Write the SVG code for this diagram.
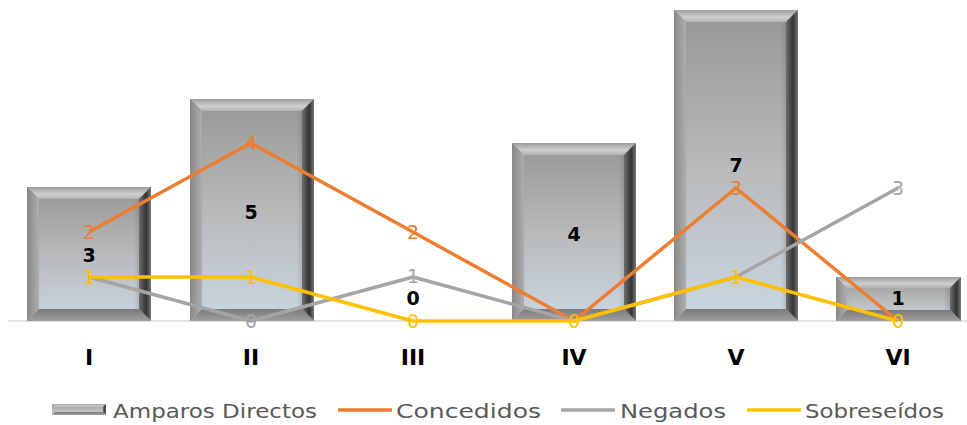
<svg xmlns="http://www.w3.org/2000/svg" width="967" height="425" viewBox="0 0 967 425">
<defs>
<linearGradient id="face" x1="0" y1="0" x2="0" y2="1">
<stop offset="0" stop-color="#979797"/>
<stop offset="0.5" stop-color="#b8b9ba"/>
<stop offset="1" stop-color="#cad7e2"/>
</linearGradient>
<linearGradient id="side" x1="0" y1="0" x2="1" y2="0">
<stop offset="0" stop-color="#000" stop-opacity="0.1"/>
<stop offset="0.12" stop-color="#000" stop-opacity="0"/>
<stop offset="0.86" stop-color="#000" stop-opacity="0"/>
<stop offset="0.92" stop-color="#000" stop-opacity="0.15"/>
<stop offset="1" stop-color="#000" stop-opacity="0.05"/>
</linearGradient>
<linearGradient id="topb" x1="0" y1="0" x2="0" y2="1">
<stop offset="0" stop-color="#9c9c9c"/>
<stop offset="0.6" stop-color="#cfcfcf"/>
<stop offset="1" stop-color="#b2b2b2"/>
</linearGradient>
<linearGradient id="leftb" x1="0" y1="0" x2="1" y2="0">
<stop offset="0" stop-color="#888"/>
<stop offset="1" stop-color="#aeaeae"/>
</linearGradient>
<linearGradient id="rightb" x1="0" y1="0" x2="1" y2="0">
<stop offset="0" stop-color="#6e6e6e"/>
<stop offset="0.6" stop-color="#333"/>
<stop offset="1" stop-color="#777"/>
</linearGradient>
<linearGradient id="botb" x1="0" y1="0" x2="0" y2="1">
<stop offset="0" stop-color="#7a7a7a"/>
<stop offset="1" stop-color="#9e9e9e"/>
</linearGradient>
<style>
.face{fill:url(#face)}
.side{fill:url(#side)}
.tb{fill:url(#topb)}
.lb{fill:url(#leftb)}
.rb{fill:url(#rightb)}
.bb{fill:url(#botb)}
.ln{fill:none;stroke-width:3.5;stroke-linejoin:round}
.or{stroke:#ED7D31}
.gr{stroke:#A5A5A5}
.ye{stroke:#FFC000}
.bl{font-family:"DejaVu Sans","Liberation Sans",sans-serif;font-weight:bold;font-size:19px;fill:#000;text-anchor:middle}
.dl{font-family:"DejaVu Sans","Liberation Sans",sans-serif;font-size:19px;text-anchor:middle;dominant-baseline:central}
.cat{font-family:"DejaVu Sans","Liberation Sans",sans-serif;font-weight:bold;font-size:22px;fill:#000;text-anchor:middle}
.lg{font-family:"DejaVu Sans","Liberation Sans",sans-serif;font-size:20px;fill:#595959}
</style>
</defs>
<rect width="967" height="425" fill="#fff"/>
<line x1="8" y1="321" x2="967" y2="321" stroke="#d9d9d9" stroke-width="1.5"/>

<g id="bar-I">
<rect class="face" x="27" y="187" width="124" height="134"/>
<rect class="side" x="27" y="187" width="124" height="134"/>
<polygon class="tb" points="27,187 151,187 139,199 39,199"/>
<polygon class="lb" points="27,187 39,199 39,309 27,321"/>
<polygon class="rb" points="151,187 139,199 139,309 151,321"/>
<polygon class="bb" points="27,321 151,321 139,309 39,309"/>
</g>
<g id="bar-II">
<rect class="face" x="190" y="99" width="124" height="222"/>
<rect class="side" x="190" y="99" width="124" height="222"/>
<polygon class="tb" points="190,99 314,99 302,111 202,111"/>
<polygon class="lb" points="190,99 202,111 202,309 190,321"/>
<polygon class="rb" points="314,99 302,111 302,309 314,321"/>
<polygon class="bb" points="190,321 314,321 302,309 202,309"/>
</g>
<g id="bar-IV">
<rect class="face" x="512" y="143" width="124" height="178"/>
<rect class="side" x="512" y="143" width="124" height="178"/>
<polygon class="tb" points="512,143 636,143 624,155 524,155"/>
<polygon class="lb" points="512,143 524,155 524,309 512,321"/>
<polygon class="rb" points="636,143 624,155 624,309 636,321"/>
<polygon class="bb" points="512,321 636,321 624,309 524,309"/>
</g>
<g id="bar-V">
<rect class="face" x="674" y="10" width="124" height="311"/>
<rect class="side" x="674" y="10" width="124" height="311"/>
<polygon class="tb" points="674,10 798,10 786,22 686,22"/>
<polygon class="lb" points="674,10 686,22 686,309 674,321"/>
<polygon class="rb" points="798,10 786,22 786,309 798,321"/>
<polygon class="bb" points="674,321 798,321 786,309 686,309"/>
</g>
<g id="bar-VI">
<rect class="face" x="836" y="277" width="125" height="44"/>
<rect class="side" x="836" y="277" width="125" height="44"/>
<polygon class="tb" points="836,277 961,277 950,288 847,288"/>
<polygon class="lb" points="836,277 847,288 847,310 836,321"/>
<polygon class="rb" points="961,277 950,288 950,310 961,321"/>
<polygon class="bb" points="836,321 961,321 950,310 847,310"/>
</g>

<g id="connectors">
<polyline class="ln or" points="89,232 251,143 413,232 574,321 736,188 898,321"/>
<polyline class="ln gr" points="89,277 251,321 413,277 574,321 736,277 898,188"/>
<polyline class="ln ye" points="89,277 251,277 413,321 574,321 736,277 898,321"/>
</g>

<g id="bar-labels">
<text class="bl" x="89" y="262">3</text>
<text class="bl" x="251" y="219">5</text>
<text class="bl" x="413" y="305">0</text>
<text class="bl" x="574" y="241">4</text>
<text class="bl" x="736" y="172">7</text>
<text class="bl" x="898" y="305">1</text>
</g>

<g id="line-labels">
<g fill="#ED7D31">
<text class="dl" x="89" y="232">2</text>
<text class="dl" x="251" y="143">4</text>
<text class="dl" x="413" y="232">2</text>
<text class="dl" x="736" y="188">3</text>
</g>
<g fill="#A5A5A5">
<text class="dl" x="251" y="321">0</text>
<text class="dl" x="413" y="276">1</text>
<text class="dl" x="898" y="188">3</text>
</g>
<g fill="#FFC000">
<text class="dl" x="89" y="277">1</text>
<text class="dl" x="251" y="277">1</text>
<text class="dl" x="413" y="321">0</text>
<text class="dl" x="574" y="321">0</text>
<text class="dl" x="736" y="277">1</text>
<text class="dl" x="898" y="321">0</text>
</g>
</g>

<g id="categories">
<text class="cat" x="89" y="365">I</text>
<text class="cat" x="251" y="365">II</text>
<text class="cat" x="413" y="365">III</text>
<text class="cat" x="574" y="365">IV</text>
<text class="cat" x="736" y="365">V</text>
<text class="cat" x="898" y="365">VI</text>
</g>

<g id="legend">
<g id="legend-bar">
<rect class="face" x="52" y="404" width="54" height="11"/>
<polygon class="tb" points="52,404 106,404 103,407 55,407"/>
<polygon class="rb" points="106,404 103,407 103,412 106,415"/>
<polygon class="bb" points="52,415 106,415 103,412 55,412"/>
</g>
<text class="lg" x="113" y="418" textLength="204" lengthAdjust="spacingAndGlyphs">Amparos Directos</text>
<line x1="338" y1="410" x2="392" y2="410" class="ln or"/>
<text class="lg" x="396" y="418" textLength="145" lengthAdjust="spacingAndGlyphs">Concedidos</text>
<line x1="561" y1="410" x2="615" y2="410" class="ln gr"/>
<text class="lg" x="620" y="418" textLength="106" lengthAdjust="spacingAndGlyphs">Negados</text>
<line x1="747" y1="410" x2="801" y2="410" class="ln ye"/>
<text class="lg" x="805" y="418" textLength="139" lengthAdjust="spacingAndGlyphs">Sobreseídos</text>
</g>
</svg>
